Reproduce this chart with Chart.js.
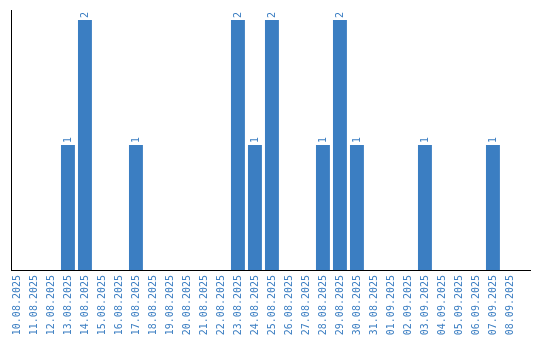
<!DOCTYPE html>
<html>
<head>
<meta charset="utf-8">
<script src="https://cdn.jsdelivr.net/npm/chart.js@4"></script>
<style>
  html, body { margin: 0; padding: 0; background: #fff; }
  #wrap { width: 540px; height: 340px; }
</style>
</head>
<body>
<div id="wrap"><canvas id="chart"></canvas></div>
<script>
const dateLabels = [
  '10.08.2025', '11.08.2025', '12.08.2025', '13.08.2025', '14.08.2025',
  '15.08.2025', '16.08.2025', '17.08.2025', '18.08.2025', '19.08.2025',
  '20.08.2025', '21.08.2025', '22.08.2025', '23.08.2025', '24.08.2025',
  '25.08.2025', '26.08.2025', '27.08.2025', '28.08.2025', '29.08.2025',
  '30.08.2025', '31.08.2025', '01.09.2025', '02.09.2025', '03.09.2025',
  '04.09.2025', '05.09.2025', '06.09.2025', '07.09.2025', '08.09.2025'
];
const counts = [
  0, 0, 0, 1, 2,
  0, 0, 1, 0, 0,
  0, 0, 0, 2, 1,
  2, 0, 0, 1, 2,
  1, 0, 0, 0, 1,
  0, 0, 0, 1, 0
];

const blue = '#3b7ec2';

// draws the value above each bar, rotated like the axis labels
const barValues = {
  id: 'barValues',
  afterDatasetsDraw(chart) {
    const ctx = chart.ctx;
    const meta = chart.getDatasetMeta(0);
    ctx.save();
    ctx.fillStyle = blue;
    ctx.font = '10px "DejaVu Sans Mono"';
    ctx.textAlign = 'left';
    ctx.textBaseline = 'middle';
    meta.data.forEach((bar, i) => {
      if (!counts[i]) return;
      ctx.save();
      ctx.translate(bar.x, bar.y - 2);
      ctx.rotate(-Math.PI / 2);
      ctx.fillText(String(counts[i]), 0, 0);
      ctx.restore();
    });
    ctx.restore();
  }
};

new Chart(document.getElementById('chart'), {
  type: 'bar',
  data: {
    datasets: [{
      data: counts.map((v, i) => ({ x: i, y: v })),
      backgroundColor: blue,
      borderWidth: 0,
      barPercentage: 0.82,
      categoryPercentage: 1
    }]
  },
  options: {
    responsive: true,
    maintainAspectRatio: false,
    animation: false,
    layout: { padding: { left: 10, top: 10, right: 10, bottom: 0 } },
    plugins: {
      legend: { display: false },
      tooltip: { enabled: false }
    },
    scales: {
      x: {
        type: 'linear',
        offset: false,
        min: -0.35,
        max: 30.18,
        grid: { display: false, drawTicks: false },
        border: { display: true, color: '#000', width: 1 },
        afterBuildTicks: (scale) => {
          scale.ticks = dateLabels.map((_, i) => ({ value: i }));
        },
        afterFit: (scale) => {
          scale.height = 70;
          scale.paddingLeft = 0;
          scale.paddingRight = 0;
        },
        ticks: {
          autoSkip: false,
          minRotation: 90,
          maxRotation: 90,
          padding: 5,
          color: blue,
          font: { family: 'DejaVu Sans Mono', size: 10 },
          callback: (v) => dateLabels[v] ?? ''
        }
      },
      y: {
        min: 0,
        max: 2.08,
        grid: { display: false, drawTicks: false },
        border: { display: true, color: '#000', width: 1 },
        afterFit: (scale) => { scale.width = 1; },
        ticks: { display: false }
      }
    }
  },
  plugins: [barValues]
});
</script>
</body>
</html>
